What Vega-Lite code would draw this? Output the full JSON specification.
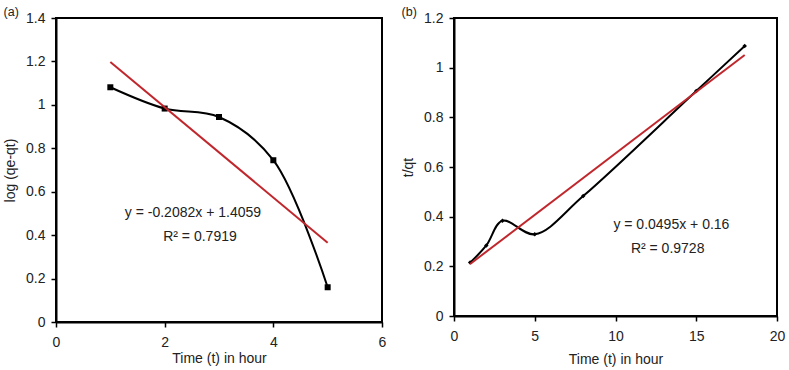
{
  "$schema": "https://vega.github.io/schema/vega-lite/v6.json",
  "padding": {"left": 2, "top": 4, "right": 5, "bottom": 2},
  "background": "white",
  "config": {
    "font": "Liberation Sans",
    "view": {"stroke": "black", "strokeWidth": 2},
    "axis": {"grid": false, "domainColor": "black", "domainWidth": 2, "tickColor": "black", "tickWidth": 1.5, "tickSize": 5, "labelFontSize": 14, "labelColor": "#222", "titleFontSize": 14, "titleFontWeight": "normal", "titleColor": "#222", "labelFlush": false},
    "title": {"fontSize": 12.5, "fontWeight": "normal", "anchor": "start", "frame": "bounds", "color": "#222", "offset": -7}
  },
  "datasets": {
    "a": [
      {"t": 1, "v": 1.081},
      {"t": 2, "v": 0.983},
      {"t": 3, "v": 0.944},
      {"t": 4, "v": 0.745},
      {"t": 5, "v": 0.16}
    ],
    "fitA": [
      {"t": 1, "v": 1.1977},
      {"t": 5, "v": 0.3649}
    ],
    "eqA": [
      {"x": 2.52, "y": 0.5, "label": "y = -0.2082x + 1.4059"},
      {"x": 2.65, "y": 0.39, "label": "R² = 0.7919"}
    ],
    "b": [
      {"t": 1, "v": 0.215},
      {"t": 2, "v": 0.284},
      {"t": 3, "v": 0.384},
      {"t": 5, "v": 0.329},
      {"t": 8, "v": 0.483},
      {"t": 15, "v": 0.906},
      {"t": 18, "v": 1.087}
    ],
    "fitB": [
      {"t": 1, "v": 0.2095},
      {"t": 18, "v": 1.051}
    ],
    "eqB": [
      {"x": 13.46, "y": 0.365, "label": "y = 0.0495x + 0.16"},
      {"x": 13.23, "y": 0.268, "label": "R² = 0.9728"}
    ]
  },
  "spacing": 13,
  "hconcat": [
    {
      "title": {"text": "(a)"},
      "width": 326,
      "height": 304,
      "encoding": {
        "x": {"field": "t", "type": "quantitative", "scale": {"domain": [0, 6], "nice": false}, "axis": {"title": "Time (t) in hour", "values": [0, 2, 4, 6], "labelPadding": 8, "titlePadding": 2}},
        "y": {"field": "v", "type": "quantitative", "scale": {"domain": [0, 1.4], "nice": false}, "axis": {"title": "log (qe-qt)", "values": [0, 0.2, 0.4, 0.6, 0.8, 1, 1.2, 1.4], "format": "~g", "labelPadding": 6, "titlePadding": 8}}
      },
      "layer": [
        {"data": {"name": "a"}, "mark": {"type": "line", "interpolate": "catmull-rom", "color": "black", "strokeWidth": 2}},
        {"data": {"name": "a"}, "mark": {"type": "square", "color": "black", "size": 36, "opacity": 1}},
        {"data": {"name": "fitA"}, "mark": {"type": "line", "color": "#c0272d", "strokeWidth": 2}},
        {"data": {"name": "eqA"}, "mark": {"type": "text", "fontSize": 14, "color": "#222"}, "encoding": {"x": {"field": "x", "type": "quantitative"}, "y": {"field": "y", "type": "quantitative"}, "text": {"field": "label"}}}
      ]
    },
    {
      "title": {"text": "(b)"},
      "width": 323,
      "height": 298,
      "encoding": {
        "x": {"field": "t", "type": "quantitative", "scale": {"domain": [0, 20], "nice": false}, "axis": {"title": "Time (t) in hour", "values": [0, 5, 10, 15, 20], "labelPadding": 8, "titlePadding": 9}},
        "y": {"field": "v", "type": "quantitative", "scale": {"domain": [0, 1.2], "nice": false}, "axis": {"title": "t/qt", "values": [0, 0.2, 0.4, 0.6, 0.8, 1, 1.2], "format": "~g", "labelPadding": 6, "titlePadding": 8}}
      },
      "layer": [
        {"data": {"name": "b"}, "mark": {"type": "line", "interpolate": "catmull-rom", "color": "black", "strokeWidth": 2}},
        {"data": {"name": "b"}, "mark": {"type": "point", "shape": "diamond", "filled": true, "color": "black", "size": 20, "opacity": 1}},
        {"data": {"name": "fitB"}, "mark": {"type": "line", "color": "#c0272d", "strokeWidth": 2}},
        {"data": {"name": "eqB"}, "mark": {"type": "text", "fontSize": 14, "color": "#222"}, "encoding": {"x": {"field": "x", "type": "quantitative"}, "y": {"field": "y", "type": "quantitative"}, "text": {"field": "label"}}}
      ]
    }
  ]
}
